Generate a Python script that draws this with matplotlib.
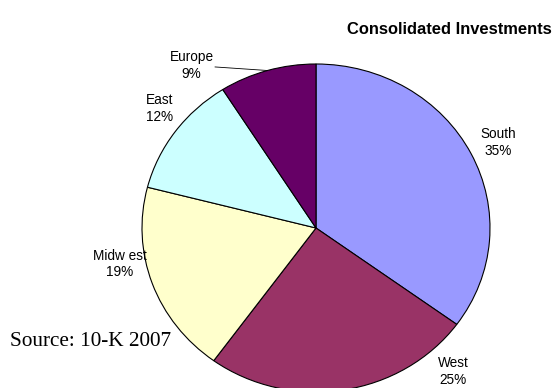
import numpy as np
import matplotlib
matplotlib.use("Agg")
from matplotlib import pyplot as plt

regions = ["South", "West", "Midw est", "East", "Europe"]
shares = [35, 25, 19, 12, 9]
colors = ["#9999FF", "#993366", "#FFFFCC", "#CCFFFF", "#660066"]

# label spots in data units (pie radius = 1)
label_pos = [(1.045, 0.52), (0.79, -0.875), (-1.13, -0.22), (-0.90, 0.73), (-0.715, 0.99)]

fig = plt.figure(figsize=(5.6, 3.88), dpi=100)
ax = fig.add_axes([0, 0, 1, 1])

wedges, _ = ax.pie(shares, colors=colors, startangle=90, counterclock=False,
                   wedgeprops=dict(edgecolor="black", linewidth=0.8))

# the chart is drawn a bit wider than tall
ax.set_aspect("auto")
cx, cy, rx, ry = 316, 228, 174, 164
ax.set_xlim(-cx / rx, (560 - cx) / rx)
ax.set_ylim((cy - 388) / ry, cy / ry)
ax.axis("off")

for name, val, (lx, ly) in zip(regions, shares, label_pos):
    ax.text(lx, ly, f"{name}\n{val}%", ha="center", va="center", fontsize=9.8,
            family="Liberation Sans", linespacing=1.25)

# leader line for the small Europe slice
w = wedges[-1]
mid = np.deg2rad((w.theta1 + w.theta2) / 2)
ax.plot([-0.58, np.cos(mid)], [0.982, np.sin(mid)], color="black", lw=0.6)

fig.text(449 / 560, 1 - 30 / 388, "Consolidated Investments", ha="center", va="center",
         fontsize=11.9, fontweight="bold", family="Liberation Sans")
fig.text(10 / 560, 1 - 341 / 388, "Source: 10-K 2007", ha="left", va="center",
         fontsize=15.3, family="Liberation Serif")

fig.savefig("out.png", dpi=100)
